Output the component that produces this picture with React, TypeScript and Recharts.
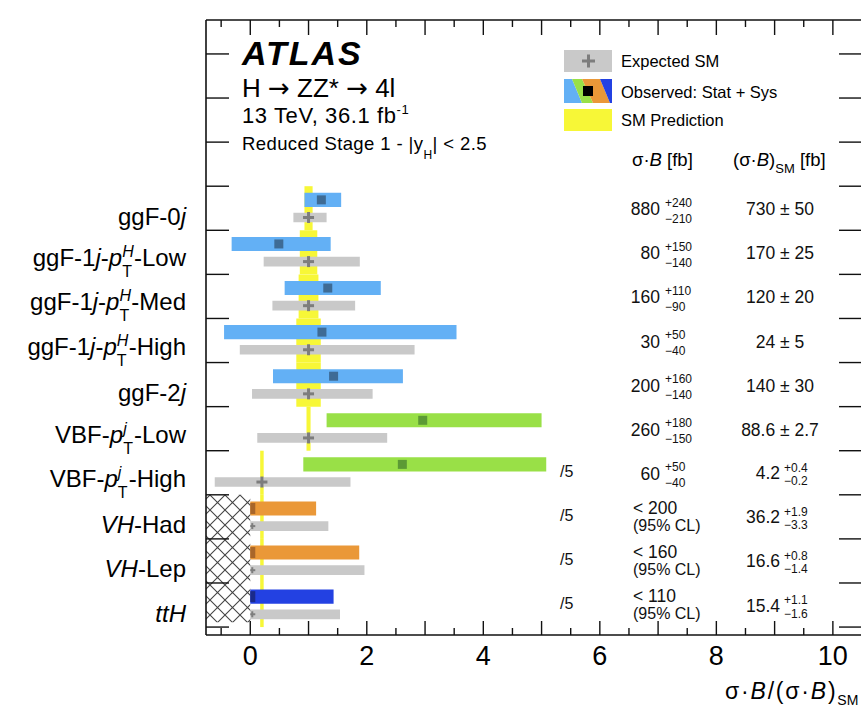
import React from 'react'
import { ComposedChart, XAxis, YAxis, ReferenceArea, Scatter } from 'recharts'

const font = '"Liberation Sans", Arial, Helvetica, sans-serif'

// production bins, top to bottom
const categories = ['ggF-0j', 'ggF-1j-pT-Low', 'ggF-1j-pT-Med', 'ggF-1j-pT-High', 'ggF-2j', 'VBF-pT-Low', 'VBF-pT-High', 'VH-Had', 'VH-Lep', 'ttH']
const groups = ['ggF', 'ggF', 'ggF', 'ggF', 'ggF', 'VBF', 'VBF', 'VH', 'VH', 'ttH']

// sigma*B / (sigma*B)_SM, the "/5" bins already divided by 5
const obsVal = [1.22, 0.49, 1.33, 1.23, 1.43, 2.96, 2.61, 0, 0, 0]
const obsLo = [0.93, -0.32, 0.59, -0.45, 0.39, 1.31, 0.91, 0, 0, 0]
const obsHi = [1.56, 1.38, 2.24, 3.54, 2.62, 5.0, 5.08, 1.13, 1.87, 1.43]
const expVal = [1, 1, 1, 1, 1, 1, 0.2, 0, 0, 0]
const expLo = [0.74, 0.23, 0.38, -0.18, 0.03, 0.12, -0.61, 0, 0, 0]
const expHi = [1.31, 1.88, 1.8, 2.82, 2.1, 2.35, 1.72, 1.34, 1.96, 1.54]
const smVal = [1, 1, 1, 1, 1, 1, 0.2, 0.2, 0.2, 0.2]
const smErr = [0.07, 0.15, 0.17, 0.21, 0.21, 0.035, 0.03, 0.03, 0.03, 0.03]

// table on the right
const xsVal = ['880', '80', '160', '30', '200', '260', '60', '< 200', '< 160', '< 110']
const xsUp = ['+240', '+150', '+110', '+50', '+160', '+180', '+50', '', '', '']
const xsDn = ['−210', '−140', '−90', '−40', '−140', '−150', '−40', '', '', '']
const smXs = ['730 ± 50', '170 ± 25', '120 ± 20', '24 ± 5', '140 ± 30', '88.6 ± 2.7', '4.2', '36.2', '16.6', '15.4']
const smUp = ['', '', '', '', '', '', '+0.4', '+1.9', '+0.8', '+1.1']
const smDn = ['', '', '', '', '', '', '−0.2', '−3.3', '−1.4', '−1.6']
const scaleNote = ['', '', '', '', '', '', '/5', '/5', '/5', '/5']

const xTicks = [-0.5, 0, 0.5, 1, 1.5, 2, 2.5, 3, 3.5, 4, 4.5, 5, 5.5, 6, 6.5, 7, 7.5, 8, 8.5, 9, 9.5, 10, 10.5]
const xLabels = [0, 2, 4, 6, 8, 10]
const yTicks = [0, 0.5, 1, 1.5, 2, 2.5, 3, 3.5, 4, 4.5, 5, 5.5, 6, 6.5, 7, 7.5, 8, 8.5, 9, 9.5, 10, 11, 12, 13]

const xDomain = [-0.76, 10.5]
const yDomain = [-0.18, 13.77]

const barColor: Record<string, string> = { ggF: '#63b0f5', VBF: '#99e047', VH: '#ea9838', ttH: '#2341e2' }
const markColor: Record<string, string> = { ggF: '#3e6b95', VBF: '#5c9a35', VH: '#a8662a', ttH: '#1a2a8a' }
const yellow = '#f7f737'
const grey = '#c9c9c9'

const row = (i: number) => 9 - i
const isLimit = (i: number) => xsUp[i] === ''

const obsPoints = categories.map((c, i) => ({ x: obsVal[i], y: row(i) + 0.69, i }))
const expPoints = categories.map((c, i) => ({ x: expVal[i], y: row(i) + 0.29, i }))

const ObsMarker = (p: any) => {
    const { cx, cy, payload } = p
    const c = markColor[groups[payload.i]]
    if (isLimit(payload.i)) return <rect x={cx} y={cy - 5.5} width={5} height={11} fill={c} />
    return <rect x={cx - 4.5} y={cy - 4.5} width={9} height={9} fill={c} />
}

const ExpMarker = (p: any) => {
    const { cx, cy, payload } = p
    if (isLimit(payload.i)) return <g fill='#7d7d7d'>
        <rect x={cx} y={cy - 1} width={5} height={2} />
        <rect x={cx + 1} y={cy - 3} width={2} height={6} />
    </g>
    return <g fill='#7d7d7d'>
        <rect x={cx - 5.5} y={cy - 1.5} width={11} height={3} />
        <rect x={cx - 1.5} y={cy - 5.5} width={3} height={11} />
    </g>
}

const CatLabel = ({ name, x, y }: { name: string, x: number, y: number }) => {
    const t = { x, textAnchor: 'end' as const, fontSize: 24, fontFamily: font, fill: '#000' }
    if (name.startsWith('ggF-1j-pT-')) {
        const suffix = name.split('-')[3]
        return <text {...t} y={y + 14}>ggF-1<tspan fontStyle='italic'>j</tspan>-<tspan fontStyle='italic'>p</tspan><tspan fontSize={16} fontStyle='italic' dy={-9}>H</tspan><tspan fontSize={16} dx={-11.5} dy={20}>T</tspan><tspan dx={2} dy={-11}>-{suffix}</tspan></text>
    }
    if (name.startsWith('VBF-pT-')) {
        const suffix = name.split('-')[2]
        return <text {...t} y={y + 14}>VBF-<tspan fontStyle='italic'>p</tspan><tspan fontSize={16} fontStyle='italic' dy={-9}>j</tspan><tspan fontSize={16} dx={-3.5} dy={20}>T</tspan><tspan dx={1} dy={-11}>-{suffix}</tspan></text>
    }
    if (name.startsWith('VH-')) return <text {...t} y={y + 16.5}><tspan fontStyle='italic'>VH</tspan>-{name.slice(3)}</text>
    if (name === 'ttH') return <text {...t} y={y + 16.5} fontStyle='italic'>ttH</text>
    // ggF-0j, ggF-2j
    return <text {...t} y={y + 16.5}>{name.slice(0, -1)}<tspan fontStyle='italic'>j</tspan></text>
}

const LeftTick = (p: any) => {
    const { x, y, payload } = p
    const v = payload.value
    if (Number.isInteger(v)) return <line x1={x} x2={x + 23} y1={y} y2={y} stroke='#111' strokeWidth={1.4} />
    const i = 9 - Math.floor(v)
    return <CatLabel name={categories[i]} x={x - 20} y={y} />
}

const TableRow = ({ i, cy }: { i: number, cy: number }) => {
    const f = { fontFamily: font, fill: '#111' }
    return <g>
        {scaleNote[i] && <text {...f} x={560} y={cy + 4} fontSize={16}>{scaleNote[i]}</text>}
        {isLimit(i) ? <>
            <text {...f} x={633} y={cy - 3} fontSize={17.5}>{xsVal[i]}</text>
            <text {...f} x={633} y={cy + 14} fontSize={16}>(95% CL)</text>
        </> : <>
            <text {...f} x={660} y={cy + 7} textAnchor='end' fontSize={17.5}>{xsVal[i]}</text>
            <text {...f} x={665} y={cy - 1.5} fontSize={12}>{xsUp[i]}</text>
            <text {...f} x={665} y={cy + 14.5} fontSize={12}>{xsDn[i]}</text>
        </>}
        {smUp[i] ? <>
            <text {...f} x={780} y={cy + 6.5} textAnchor='end' fontSize={17.5}>{smXs[i]}</text>
            <text {...f} x={784} y={cy - 1} fontSize={12}>{smUp[i]}</text>
            <text {...f} x={784} y={cy + 12.5} fontSize={12}>{smDn[i]}</text>
        </> : <text {...f} x={780} y={cy + 7} textAnchor='middle' fontSize={17.5}>{smXs[i]}</text>}
    </g>
}

const RightTick = (p: any) => {
    const { x, y, payload } = p
    const v = payload.value
    if (Number.isInteger(v)) return <line x1={x - 23} x2={x} y1={y} y2={y} stroke='#111' strokeWidth={1.4} />
    return <TableRow i={9 - Math.floor(v)} cy={y} />
}

const BottomTick = (p: any) => {
    const { x, y, payload } = p
    const v = payload.value
    const major = Number.isInteger(v)
    return <g>
        <line x1={x} x2={x} y1={y} y2={y - (major ? 14 : 7)} stroke='#111' strokeWidth={1.4} />
        {xLabels.includes(v) && <text x={x} y={y + 30} textAnchor='middle' fontSize={27} fontFamily={font} fill='#000'>{v}</text>}
    </g>
}

const TopTick = (p: any) => {
    const { x, y, payload } = p
    const major = Number.isInteger(payload.value)
    return <line x1={x} x2={x} y1={y} y2={y + (major ? 15 : 7)} stroke='#111' strokeWidth={1.4} />
}

const Overlay = () => <svg width={861} height={709} style={{ position: 'absolute', left: 0, top: 0, pointerEvents: 'none' }} fontFamily={font}>
    <defs>
        <pattern id='hatch' patternUnits='userSpaceOnUse' width={15} height={15}>
            <path d='M0,0 L15,15 M15,0 L0,15' stroke='#444' strokeWidth={1.1} />
        </pattern>
    </defs>
    <text x={242} y={65} fontSize={34} fontWeight='bold' fontStyle='italic' letterSpacing={2}>ATLAS</text>
    <text x={242} y={97} fontSize={26}>H <tspan fontFamily='"DejaVu Sans"'>→</tspan> ZZ* <tspan fontFamily='"DejaVu Sans"'>→</tspan> 4l</text>
    <text x={242} y={123} fontSize={22} letterSpacing={0.6}>13 TeV, 36.1 fb<tspan fontSize={13} dy={-9}>-1</tspan></text>
    <text x={242} y={150} fontSize={18.5} letterSpacing={0.4}>Reduced Stage 1 - |y<tspan fontSize={12} dy={9}>H</tspan><tspan dy={-9}>| &lt; 2.5</tspan></text>

    <rect x={564} y={50} width={48} height={22} fill={grey} />
    <rect x={582} y={59.5} width={13} height={3} fill='#7d7d7d' />
    <rect x={587} y={54.5} width={3} height={13} fill='#7d7d7d' />
    <polygon points='564,79 572,79 582,103 564,103' fill={barColor.ggF} />
    <polygon points='572,79 582,79 593,103 582,103' fill={barColor.VBF} />
    <polygon points='582,79 600,79 610,103 593,103' fill={barColor.VH} />
    <polygon points='600,79 612,79 612,103 610,103' fill={barColor.ttH} />
    <rect x={583} y={86} width={10} height={10} fill='#000' />
    <rect x={564} y={109} width={48} height={22} fill={yellow} />
    <text x={621} y={67} fontSize={16.5}>Expected SM</text>
    <text x={621} y={98} fontSize={16.5}>Observed: Stat + Sys</text>
    <text x={621} y={126} fontSize={16.5}>SM Prediction</text>

    <text x={632} y={166} fontSize={18.5}>σ·<tspan fontStyle='italic'>B</tspan> [fb]</text>
    <text x={733} y={166} fontSize={18.5}>(σ·<tspan fontStyle='italic'>B</tspan>)<tspan fontSize={13} dy={7}>SM</tspan><tspan dy={-7}> [fb]</tspan></text>

    <text x={725} y={699} fontSize={23} letterSpacing={1.8}>σ·<tspan fontStyle='italic'>B</tspan>/(σ·<tspan fontStyle='italic'>B</tspan>)<tspan fontSize={14} letterSpacing={0} dy={6}>SM</tspan></text>
</svg>

export default function App() {
    return <div style={{ position: 'absolute', left: 0, top: 0, width: 861, height: 709, overflow: 'hidden', background: '#fff' }}>
        <ComposedChart width={870} height={709} margin={{ top: 0, right: 0, bottom: 0, left: 0 }}>
            <XAxis dataKey='x' type='number' domain={xDomain} allowDataOverflow ticks={xTicks} interval={0}
                height={74} tickSize={0} tickMargin={0} tickLine={false} tick={BottomTick}
                axisLine={{ stroke: '#111', strokeWidth: 1.6 }} />
            <XAxis xAxisId='top' orientation='top' dataKey='x' type='number' domain={xDomain} allowDataOverflow ticks={xTicks} interval={0}
                height={20} tickSize={0} tickMargin={0} tickLine={false} tick={TopTick}
                axisLine={{ stroke: '#111', strokeWidth: 1.6 }} />
            <YAxis dataKey='y' type='number' domain={yDomain} allowDataOverflow ticks={yTicks} interval={0}
                width={206} tickSize={0} tickMargin={0} tickLine={false} tick={LeftTick}
                axisLine={{ stroke: '#111', strokeWidth: 1.6 }} />
            <YAxis yAxisId='right' orientation='right' dataKey='y' type='number' domain={yDomain} allowDataOverflow ticks={yTicks} interval={0}
                width={8} tickSize={0} tickMargin={0} tickLine={false} tick={RightTick}
                axisLine={{ stroke: '#111', strokeWidth: 1.6 }} />

            {categories.map((c, i) => <ReferenceArea key={'sm' + c} x1={smVal[i] - smErr[i]} x2={smVal[i] + smErr[i]}
                y1={row(i)} y2={row(i) + 1} fill={yellow} fillOpacity={1} ifOverflow='visible' />)}
            {categories.map((c, i) => <ReferenceArea key={'exp' + c} x1={expLo[i]} x2={expHi[i]}
                y1={row(i) + 0.18} y2={row(i) + 0.4} fill={grey} fillOpacity={1} ifOverflow='visible' />)}
            {categories.map((c, i) => <ReferenceArea key={'obs' + c} x1={obsLo[i]} x2={obsHi[i]}
                y1={row(i) + 0.53} y2={row(i) + 0.85} fill={barColor[groups[i]]} fillOpacity={1} ifOverflow='visible' />)}
            <ReferenceArea x1={xDomain[0]} x2={0} y1={0.11} y2={3} fill='url(#hatch)' fillOpacity={1} ifOverflow='visible' />

            <Scatter data={expPoints} shape={ExpMarker} isAnimationActive={false} />
            <Scatter data={obsPoints} shape={ObsMarker} isAnimationActive={false} />
        </ComposedChart>
        <Overlay />
    </div>
}
